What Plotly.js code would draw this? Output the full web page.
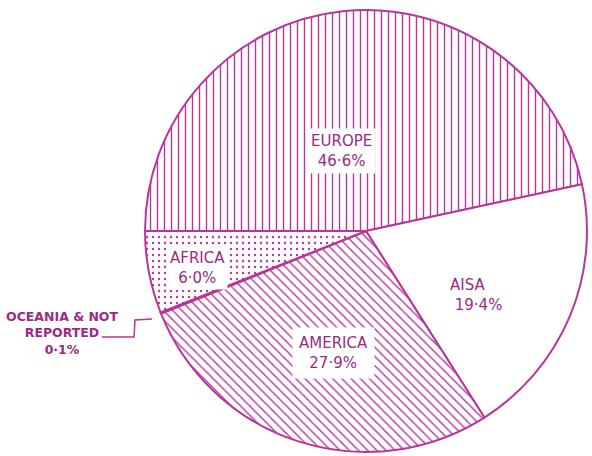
<!DOCTYPE html>
<html>
<head>
<meta charset="utf-8">
<script src="https://cdn.plot.ly/plotly-3.0.1.min.js"></script>
<style>html,body{margin:0;padding:0;background:#fff;}#chart{width:592px;height:456px;}</style>
</head>
<body>
<div id="chart"></div>
<script>
const regions = ["EUROPE", "AISA", "AMERICA", "OCEANIA & NOT REPORTED", "AFRICA"];
const shares = [46.6, 19.4, 27.9, 0.1, 6.0];
const patterns = ["|", "", "\\", "", "."];
const fills = ["#ffffff", "#ffffff", "#ffffff", "#b8369b", "#ffffff"];
const labelText = ["EUROPE<br>46·6%", "AISA<br> 19·4%", "AMERICA<br>27·9%", "OCEANIA & NOT<br>REPORTED<br>0·1%", "AFRICA<br>6·0%"];

const lineColor = "#b8369b";
const textColor = "#9c2a84";

const trace = {
  type: "pie",
  labels: regions,
  values: shares,
  sort: false,
  direction: "clockwise",
  rotation: -90,
  textinfo: "none",
  hoverinfo: "none",
  showlegend: false,
  domain: {x: [0.2449, 0.9916], y: [0.0088, 0.978]},
  marker: {
    colors: fills,
    line: {color: lineColor, width: 2},
    pattern: {
      shape: patterns,
      fgcolor: lineColor,
      bgcolor: "#ffffff",
      fillmode: "replace",
      size: [7, 8, 6.5, 8, 6],
      solidity: [0.2, 0.2, 0.22, 0.2, 0.12]
    }
  }
};

function px(x) { return x / 592; }
function py(y) { return 1 - y / 456; }

const annFont = {family: "DejaVu Sans, Arial, sans-serif", size: 15, color: textColor};
function ann(text, x, y, extra) {
  return Object.assign({text: text, x: px(x), y: py(y), xref: "paper", yref: "paper",
    xanchor: "center", yanchor: "middle", showarrow: false, font: annFont, align: "center"}, extra || {});
}
const layout = {
  width: 592, height: 456,
  margin: {l: 0, r: 0, t: 0, b: 0},
  paper_bgcolor: "#ffffff",
  plot_bgcolor: "#ffffff",
  showlegend: false,
  annotations: [
    ann(labelText[0], 341, 151, {bgcolor: "#ffffff", borderpad: 3}),
    ann(labelText[4], 197, 268, {bgcolor: "#ffffff", borderpad: 2}),
    ann(labelText[1], 476, 295, {align: "left"}),
    ann(labelText[2], 333, 353, {bgcolor: "#ffffff", borderpad: 6}),
    ann(labelText[3], 62, 333, {font: {family: "DejaVu Sans, Arial, sans-serif", size: 12.5, color: textColor, weight: "bold"}})
  ],
  shapes: [
    {type: "path", xref: "paper", yref: "paper",
     path: "M " + px(102) + "," + py(337) + " L " + px(134) + "," + py(337) + " L " + px(135) + "," + py(320) + " L " + px(152) + "," + py(319),
     line: {color: lineColor, width: 1.5}}
  ]
};

Plotly.newPlot("chart", [trace], layout, {staticPlot: true, displayModeBar: false});
</script>
</body>
</html>
